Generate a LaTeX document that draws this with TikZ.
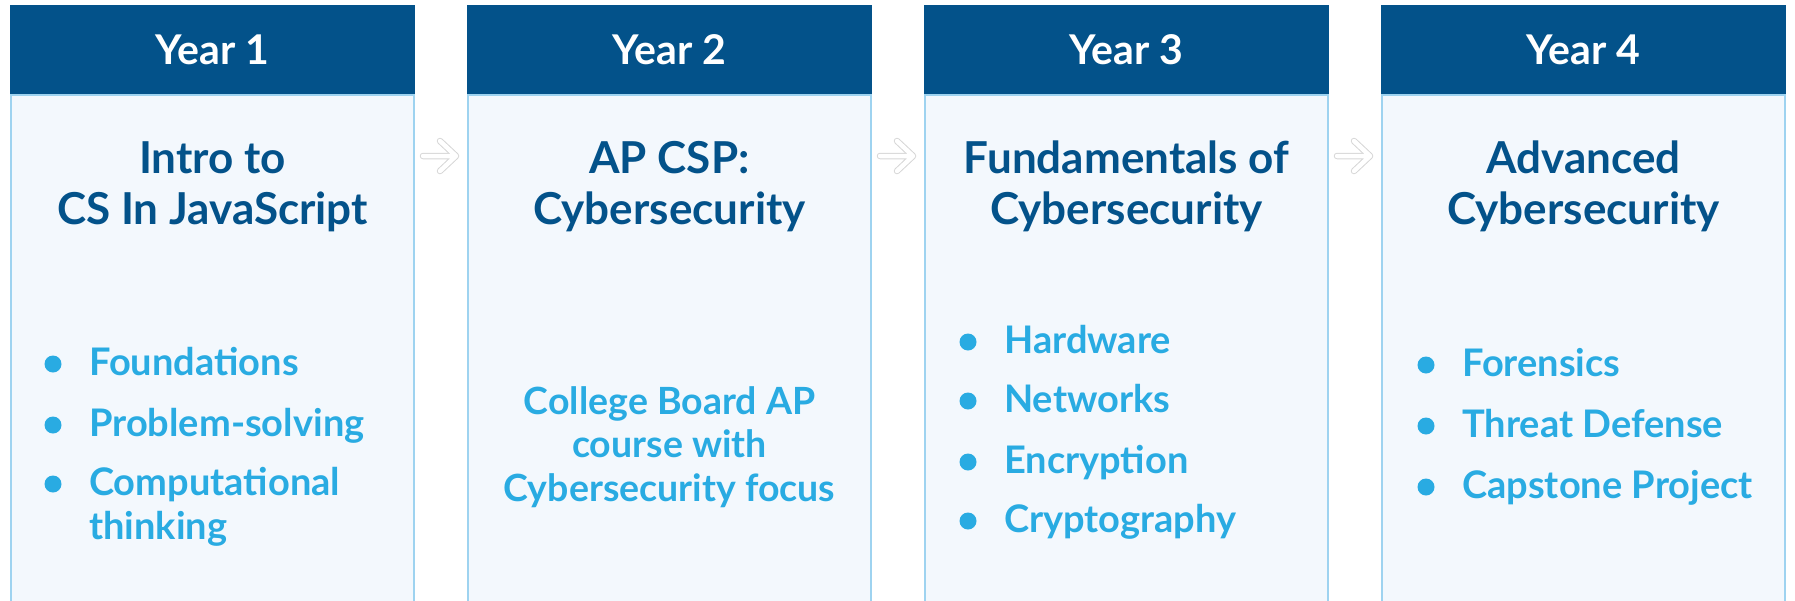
\documentclass[tikz,border=0pt]{standalone}
\usepackage{fontspec}
\setmainfont{Lato}
\usetikzlibrary{positioning}
\definecolor{yearblue}{HTML}{03528A}
\definecolor{itemblue}{HTML}{29ABE2}
\definecolor{cardfill}{HTML}{F3F8FD}
\definecolor{cardline}{HTML}{9ED3F0}
\definecolor{arrowgray}{HTML}{D6D6D6}
\tikzset{
  yearhead/.style={fill=yearblue,text=white,font=\fontsize{41}{48}\selectfont\bfseries,
    minimum width=405pt,minimum height=89pt,inner sep=0pt,outer sep=0pt},
  card/.style={fill=cardfill,draw=cardline,line width=2pt,minimum width=403pt,
    minimum height=508pt,inner sep=0pt,outer sep=0pt,anchor=north},
  course/.style={text=yearblue,font=\fontsize{44}{51}\selectfont\bfseries,align=center,
    anchor=base,inner sep=0pt},
  blurb/.style={text=itemblue,font=\fontsize{37.5}{43.5}\selectfont\bfseries,align=center,
    anchor=base,inner sep=0pt},
  item/.style={text=itemblue,font=\fontsize{38}{44}\selectfont\bfseries,align=left,
    anchor=base west,inner sep=0pt},
  dot/.style={circle,fill=itemblue,minimum size=17pt,inner sep=0pt},
  hollowout/.style={draw=arrowgray,line width=6.5pt,line cap=round,line join=round},
  hollowin/.style={draw=white,line width=4.5pt,line cap=round,line join=round}
}
% hollow arrow between two cards
\newcommand\nextyear[2]{%
  \coordinate (#1out) at ([xshift=9pt,yshift=-61pt]#1.north east);
  \coordinate (#2in) at ([xshift=-12pt,yshift=-61pt]#2.north west);
  \foreach \look in {hollowout,hollowin}
    \draw[\look] (#1out) -- (#2in) ([xshift=-16pt,yshift=15pt]#2in) -- (#2in)
      -- ([xshift=-16pt,yshift=-15pt]#2in);}
\begin{document}
\begin{tikzpicture}[x=1pt,y=-1pt]
\useasboundingbox (0,0) rectangle (1795,600);
% cards
\node[card] (card1) at (212.5,95) {};
\node[card,right=54pt of card1] (card2) {};
\node[card,right=54pt of card2] (card3) {};
\node[card,right=54pt of card3] (card4) {};
% headers
\node[yearhead,above=1pt of card1] (year1) {Year 1};
\node[yearhead,above=1pt of card2] (year2) {Year 2};
\node[yearhead,above=1pt of card3] (year3) {Year 3};
\node[yearhead,above=1pt of card4] (year4) {Year 4};
% course names (base = last line)
\node[course] (course1) at ([yshift=-129pt]card1.north) {Intro to\\CS In JavaScript};
\node[course] (course2) at ([yshift=-129pt]card2.north) {AP CSP:\\Cybersecurity};
\node[course] (course3) at ([yshift=-129pt]card3.north) {Fundamentals of\\Cybersecurity};
\node[course] (course4) at ([yshift=-129pt]card4.north) {Advanced\\Cybersecurity};
% year 1
\node[item] (found) at ([xshift=78pt,yshift=-280pt]card1.north west) {Foundations};
\node[item] (probl) at ([yshift=-61pt]found.base west) {Problem-solving};
\node[item] (compu) at ([yshift=-103pt]probl.base west) {Computational\\thinking};
% year 2
\node[blurb] (apcsp) at ([yshift=-406pt]card2.north) {College Board AP\\course with\\Cybersecurity focus};
% year 3
\node[item] (hardw) at ([xshift=79pt,yshift=-258pt]card3.north west) {Hardware};
\node[item] (netwo) at ([yshift=-59pt]hardw.base west) {Networks};
\node[item] (encry) at ([yshift=-61pt]netwo.base west) {Encryption};
\node[item] (crypt) at ([yshift=-59pt]encry.base west) {Cryptography};
% year 4
\node[item] (foren) at ([xshift=80pt,yshift=-281pt]card4.north west) {Forensics};
\node[item] (threa) at ([yshift=-61pt]foren.base west) {Threat Defense};
\node[item] (capst) at ([yshift=-61pt]threa.base west) {Capstone Project};
% bullets
\foreach \it in {found,probl,hardw,netwo,encry,crypt,foren,threa,capst}
  \node[dot] (\it dot) at ([xshift=-36pt,yshift=11pt]\it.base west) {};
\node[dot] (compudot) at ([xshift=-36pt,yshift=55pt]compu.base west) {};
% arrows
\nextyear{card1}{card2}
\nextyear{card2}{card3}
\nextyear{card3}{card4}
\end{tikzpicture}
\end{document}
